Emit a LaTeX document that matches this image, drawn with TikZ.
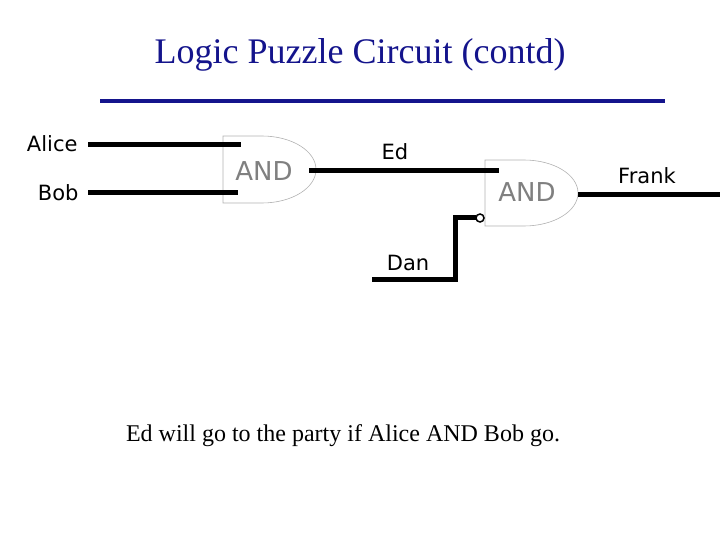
\documentclass[tikz,border=0pt]{standalone}
\usepackage{fontspec}
\setmainfont{Liberation Serif}
\newfontfamily\lblfont{DejaVu Sans}
\definecolor{navy}{RGB}{20,20,140}
\begin{document}
\begin{tikzpicture}[x=1pt,y=-1pt,
  wire/.style={line width=5pt},
  gate/.style={draw=gray!60,line width=0.6pt,fill=white},
  lbl/.style={font=\lblfont\fontsize{21}{24}\selectfont},
  gtxt/.style={font=\lblfont\fontsize{26}{30}\selectfont,text=gray}]
\useasboundingbox (0,0) rectangle (720,540);
\node[font=\fontsize{36}{40}\selectfont,text=navy] (title) at (360,55) {Logic Puzzle Circuit (contd)};
\draw[line width=4pt,navy] (100,101) coordinate (r1) -- (665,101) coordinate (r2);
% gate 1
\draw[gate] (223,136) -- (262,136) arc[start angle=90,end angle=-90,x radius=54,y radius=-33.5] -- (223,203) -- cycle;
\node[gtxt] (g1) at (264,171) {AND};
% gate 2
\draw[gate] (485,160) -- (524,160) arc[start angle=90,end angle=-90,x radius=54,y radius=-33] -- (485,226) -- cycle;
\node[gtxt] (g2) at (527,192) {AND};
% wires
\coordinate (a1) at (88,145); \coordinate (a2) at (241,145);
\coordinate (b1) at (88,193); \coordinate (b2) at (238,193);
\coordinate (e1) at (309,171); \coordinate (e2) at (499,171);
\coordinate (d1) at (372,279); \coordinate (d2) at (455,279); \coordinate (d3) at (455,218); \coordinate (d4) at (476,218);
\coordinate (f1) at (578,195); \coordinate (f2) at (720,195);
\draw[wire] (a1) -- (a2);
\draw[wire] (b1) -- (b2);
\draw[wire] (e1) -- (e2);
\draw[wire,line join=miter] (d1) -- (d2) -- (d3) -- (d4);
\draw[wire] (f1) -- (f2);
\draw[line width=1.5pt,fill=white] (480,218) circle (4);
\node[lbl,anchor=east] (alice) at (81,144) {Alice};
\node[lbl,anchor=east] (bob) at (82,193) {Bob};
\node[lbl] (ed) at (395,152) {Ed};
\node[lbl] (dan) at (408,263) {Dan};
\node[lbl] (frank) at (647,176) {Frank};
\node[font=\fontsize{24}{28}\selectfont] (note) at (343,436) {Ed will go to the party if Alice AND Bob go.};
\end{tikzpicture}
\end{document}
